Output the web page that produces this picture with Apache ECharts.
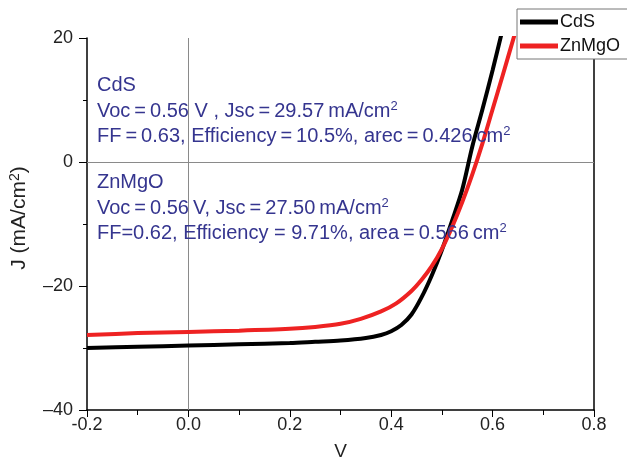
<!DOCTYPE html>
<html>
<head>
<meta charset="utf-8">
<script src="https://cdn.jsdelivr.net/npm/echarts@6/dist/echarts.min.js"></script>
<style>
  html, body { margin: 0; padding: 0; background: #fff; }
  #chart { width: 627px; height: 459px; }
</style>
</head>
<body>
<div id="chart"></div>
<script>
// J-V curves (V in volts, J in mA/cm2)
const cdsV = [-0.2, -0.1, 0, 0.1, 0.2, 0.25, 0.3, 0.35, 0.38, 0.4, 0.42, 0.44, 0.46, 0.48, 0.5, 0.52, 0.54, 0.56, 0.58, 0.6, 0.62];
const cdsJ = [-30.0, -29.8, -29.6, -29.4, -29.2, -29.0, -28.8, -28.4, -27.9, -27.3, -26.3, -24.6, -21.8, -18.3, -14.2, -9.5, -4.5, 2.5, 8.5, 14.8, 21.5];
const znV = [-0.2, -0.1, 0, 0.1, 0.2, 0.25, 0.3, 0.34, 0.38, 0.41, 0.44, 0.46, 0.48, 0.5, 0.52, 0.54, 0.56, 0.58, 0.6, 0.62, 0.645];
const znJ = [-27.9, -27.6, -27.4, -27.2, -26.9, -26.6, -26.1, -25.3, -24.1, -22.8, -20.8, -19.0, -16.8, -14.0, -10.5, -6.5, -2.0, 3.0, 8.5, 14.0, 21.0];
const seriesNames = ['CdS', 'ZnMgO'];

const xTicks = [-0.2, 0.0, 0.2, 0.4, 0.6, 0.8];
const yTicks = [20, 0, -20, -40];

const pairs = (xs, ys) => xs.map((x, i) => [x, ys[i]]);

const chart = echarts.init(document.getElementById('chart'));
const font = 'Liberation Sans, Arial, sans-serif';
const blue = '#35358f';
const th = '\u2009'; // thin space, the note text is set tight
const sup = { fontSize: 13, verticalAlign: 'top', color: blue, fontFamily: font, padding: [0, 0, 9, 0] };
const txt = { fontSize: 20, color: blue, fontFamily: font };

function note(top, text) {
  return {
    type: 'text', left: 97, top: top, z: 5,
    style: { text: text, rich: { t: txt, s: sup }, fontSize: 20, fill: blue, fontFamily: font }
  };
}

chart.setOption({
  animation: false,
  grid: { left: 87, right: 33, top: 38, bottom: 49, outerBoundsMode: 'none' },
  legend: {
    data: seriesNames,
    orient: 'vertical',
    left: 517, top: 9,
    padding: [4, 30, 4, 3],
    itemGap: 6,
    itemWidth: 38, itemHeight: 5,
    icon: 'rect',
    borderColor: '#777', borderWidth: 1,
    backgroundColor: '#fff',
    textStyle: { fontSize: 18, color: '#111', fontFamily: font, padding: [0, 0, 0, -3] }
  },
  xAxis: {
    type: 'value', min: -0.2, max: 0.8, interval: 0.2,
    name: 'V', nameLocation: 'middle', nameGap: 32,
    nameTextStyle: { fontSize: 19, color: '#222', fontFamily: font },
    axisLine: { show: true, onZero: false, lineStyle: { color: '#000', width: 1.5 } },
    axisTick: { show: true, length: 7, lineStyle: { color: '#000' } },
    minorTick: { show: true, splitNumber: 2, length: 5, lineStyle: { color: '#000' } },
    splitLine: { show: false },
    axisLabel: {
      fontSize: 18, color: '#222', fontFamily: font, margin: 6,
      formatter: v => {
        const t = xTicks.find(k => Math.abs(k - v) < 1e-9);
        return t === undefined ? '' : t.toFixed(1);
      }
    }
  },
  yAxis: [{
    type: 'value', min: -40, max: 20, interval: 20,
    name: '{a|J (mA/cm}{s|2}{a|)}', nameLocation: 'middle', nameGap: 56, nameRotate: 90,
    nameTextStyle: {
      fontSize: 21, color: '#222', fontFamily: font, padding: [0, 0, 0, 12],
      rich: {
        a: { fontSize: 21, color: '#222', fontFamily: font },
        s: { fontSize: 14, color: '#222', fontFamily: font, verticalAlign: 'top', padding: [0, 0, 9, 0] }
      }
    },
    axisLine: { show: true, onZero: false, lineStyle: { color: '#000', width: 1.5 } },
    axisTick: { show: true, length: 8, lineStyle: { color: '#000' } },
    minorTick: { show: true, splitNumber: 2, length: 4, lineStyle: { color: '#000' } },
    splitLine: { show: false },
    axisLabel: {
      fontSize: 18, color: '#222', fontFamily: font, margin: 14,
      formatter: v => (yTicks.indexOf(v) >= 0 ? String(v).replace('-', '\u2013') : '')
    }
  }, {
    type: 'value', min: -40, max: 20, position: 'right',
    axisLine: { show: true, onZero: false, lineStyle: { color: '#000', width: 1.5 } },
    axisTick: { show: false }, axisLabel: { show: false }, splitLine: { show: false }
  }],
  series: [
    {
      name: seriesNames[0], type: 'line', data: pairs(cdsV, cdsJ), smooth: 0.3,
      showSymbol: false, symbol: 'none', color: '#000', z: 3,
      lineStyle: { width: 4, color: '#000' },
      markLine: {
        silent: true, symbol: 'none', label: { show: false }, z: 1,
        itemStyle: { color: '#8a8a8a' },
        lineStyle: { color: '#8a8a8a', width: 1, type: 'solid', opacity: 1 },
        emphasis: { disabled: true },
        data: [{ xAxis: 0 }, { yAxis: 0 }]
      }
    },
    {
      name: seriesNames[1], type: 'line', data: pairs(znV, znJ), smooth: 0.3,
      showSymbol: false, symbol: 'none', color: '#ee2222', z: 4,
      lineStyle: { width: 4, color: '#ee2222' }
    }
  ],
  graphic: [
    note(75, '{t|CdS}'),
    note(100, '{t|Voc' + th + '=' + th + '0.56 V , Jsc' + th + '=' + th + '29.57' + th + 'mA/cm}{s|2}'),
    note(125, '{t|FF' + th + '=' + th + '0.63, Efficiency' + th + '=' + th + '10.5%, arec' + th + '=' + th + '0.426' + th + 'cm}{s|2}'),
    note(172, '{t|ZnMgO}'),
    note(197, '{t|Voc' + th + '=' + th + '0.56' + th + 'V, Jsc' + th + '=' + th + '27.50' + th + 'mA/cm}{s|2}'),
    note(222, '{t|FF=0.62, Efficiency = 9.71%, area' + th + '=' + th + '0.566' + th + 'cm}{s|2}')
  ]
});
</script>
</body>
</html>
